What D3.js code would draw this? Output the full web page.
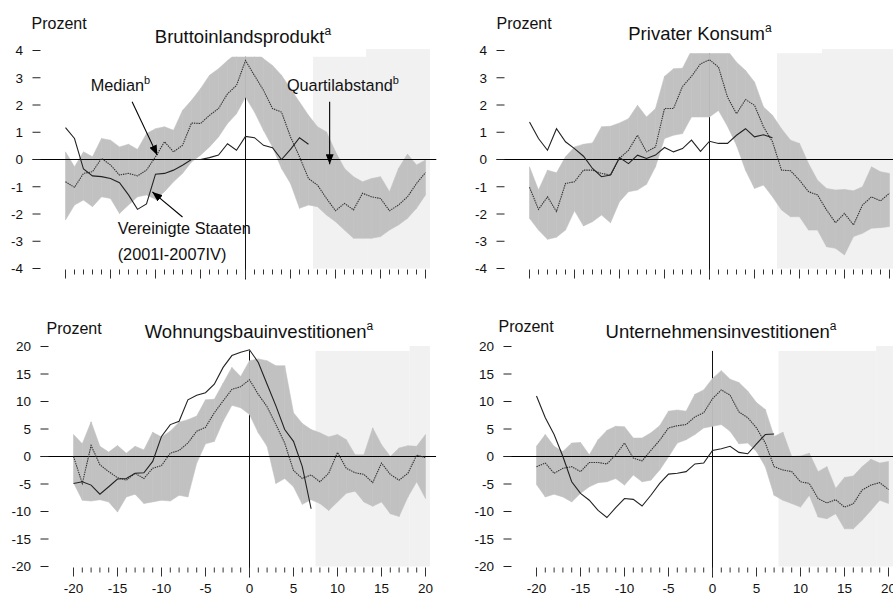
<!DOCTYPE html>
<html>
<head>
<meta charset="utf-8">
<script src="https://cdn.jsdelivr.net/npm/d3@7"></script>
<style>
  body { margin: 0; background: #fff; }
  svg { display: block; font-family: "Liberation Sans", Arial, Helvetica, sans-serif; }
</style>
</head>
<body>
<div id="chart"></div>
<script>
// quarters around the peak (0), -20 .. 20
var quarters = [-20,-19,-18,-17,-16,-15,-14,-13,-12,-11,-10,-9,-8,-7,-6,-5,-4,-3,-2,-1,
                0,1,2,3,4,5,6,7,8,9,10,11,12,13,14,15,16,17,18,19,20];
// US cycle 2001I-2007IV only covers -20 .. 7
var usQuarters = [-20,-19,-18,-17,-16,-15,-14,-13,-12,-11,-10,-9,-8,-7,-6,-5,-4,-3,-2,-1,
                  0,1,2,3,4,5,6,7];

var xTicks = [-20,-15,-10,-5,0,5,10,15,20];
var yTicksSmall = [-4,-3,-2,-1,0,1,2,3,4];
var yTicksLarge = [-20,-15,-10,-5,0,5,10,15,20];

// Bruttoinlandsprodukt
var gdpMedian = [-0.82,-1.02,-0.51,-0.45,0.04,-0.2,-0.57,-0.51,-0.6,-0.39,0.1,0.65,0.28,0.52,1.34,1.32,1.62,1.87,2.41,2.72,
                 3.63,3.08,2.54,1.87,1.74,0.83,0.1,-0.7,-0.94,-1.43,-1.88,-1.61,-1.85,-1.24,-1.37,-1.43,-1.88,-1.67,-1.37,-0.88,-0.48];
var gdpUpper = [0.28,-0.27,0.28,0.1,0.77,0.71,0.46,0.56,0.37,0.95,1.13,1.2,1.07,1.8,2.17,2.6,3.09,3.33,3.63,3.9,
                4.2,4.0,3.7,3.45,3.09,2.6,2.11,1.62,1.2,1.01,0.28,-0.33,-0.63,-0.82,-0.7,-0.63,-1.18,-0.33,0.2,-0.2,-0.02];
var gdpLower = [-2.22,-1.67,-1.49,-1.73,-1.37,-1.43,-1.98,-1.67,-1.37,-1.3,-1.46,-1.18,-0.82,-0.51,-0.09,0.16,0.46,0.83,1.32,1.68,
                2.29,1.74,1.07,0.46,-0.33,-0.88,-1.79,-1.67,-1.73,-2.04,-2.28,-2.59,-2.89,-2.89,-2.89,-2.83,-2.59,-2.4,-2.16,-1.79,-1.3];
var gdpUS = [1.17,0.77,-0.35,-0.6,-0.63,-0.7,-0.85,-1.3,-1.83,-1.63,-0.54,-0.51,-0.39,-0.21,0,0,0.07,0.16,0.58,0.34,
             0.85,0.8,0.52,0.43,0,0.37,0.8,0.56];

// Privater Konsum
var conMedian = [-1.02,-1.83,-1.37,-1.91,-0.88,-0.82,-0.39,-0.39,-0.51,-0.57,0.04,0.34,0.89,0.28,0.46,1.87,1.87,2.68,3.05,3.51,
                 3.66,3.39,2.29,1.68,2.2,1.99,1.2,0.65,-0.39,-0.41,-0.76,-1.18,-1.3,-1.85,-2.32,-1.98,-2.4,-1.67,-1.37,-1.52,-1.24];
var conUpper = [-0.27,-1.12,-0.39,-0.49,0.1,0.46,0.56,0.61,1.2,1.22,1.34,1.5,1.99,1.56,1.87,3.05,3.33,3.35,4.0,4.2,
                4.3,4.2,4.0,3.57,3.27,2.84,1.93,1.62,1.13,0.71,0.59,-0.15,-0.76,-1.06,-1.12,-1.1,-1.15,-1.0,-0.27,-0.45,-0.51];
var conLower = [-2.16,-2.59,-2.93,-2.85,-2.59,-1.88,-2.44,-2.28,-2.04,-2.32,-1.55,-1.18,-1.12,-0.91,-0.27,0.77,0.89,0.95,1.56,1.56,
                1.56,1.8,1.22,0.52,-0.39,-1.06,-0.94,-1.37,-1.85,-2.1,-2.1,-2.59,-2.59,-3.2,-3.26,-3.5,-2.83,-2.71,-2.52,-2.5,-2.46];
var conUS = [1.38,0.77,0.34,1.13,0.65,0.4,0.12,-0.33,-0.63,-0.57,0.07,-0.15,0.16,0.04,0.16,0.44,0.28,0.4,0.71,0.3,
             0.67,0.59,0.59,0.89,1.13,0.83,0.91,0.8];

// Wohnungsbauinvestitionen
var houMedian = [0,-4.9,2.0,-1.5,-2.75,-3.85,-4.3,-3.05,-4.0,-2.15,-1.65,0.6,1.1,2.45,4.6,5.3,7.95,10.1,12.2,12.7,
                 13.95,11.3,9.05,5.8,2.45,-2.55,-4.0,-3.35,-4.6,-3.05,0.75,-2.15,-2.95,-3.25,-4.75,-1.2,-3.25,-4.3,-3.05,0.25,-0.2];
var houUpper = [4.0,2.3,6.3,1.85,0.8,2.0,0.6,1.85,1.2,4.4,3.55,4.6,6.25,6.7,7.35,10.3,10.4,13.3,16.2,14.55,
                17.4,17.75,17.4,16.5,16.5,7.95,6.0,4.9,4.3,3.55,4.0,3.05,0.3,0.3,5.2,2.15,0,1.55,1.95,1.85,4.0];
var houLower = [-4.75,-7.95,-8.1,-7.85,-8.25,-10.1,-7.35,-6.85,-8.55,-8.25,-7.95,-8.1,-7.05,-7.35,-1.2,2.3,2.75,6.4,9.3,8.85,
                7.65,4.3,1.85,-4.9,-4.0,-5.5,-8.7,-7.85,-8.55,-9.8,-8.25,-6.7,-6.3,-8.25,-9.05,-8.25,-10.4,-10.9,-7.35,-4.6,-7.65];
var houUS = [-4.9,-4.6,-5.2,-6.85,-5.5,-4.1,-4.0,-3.05,-2.95,-0.9,3.65,5.8,6.4,10.3,11.15,11.6,13.15,16.2,18.35,18.95,
             19.4,17.1,13.15,9.2,4.9,2.75,-1.85,-9.5];

// Unternehmensinvestitionen
var invMedian = [-1.85,-1.2,-3.05,-2.15,-1.85,-2.75,-1.1,-1.1,-1.35,0.3,2.45,-0.3,-0.8,1.1,2.95,5.2,5.6,5.8,7.2,7.95,
                 10.5,12.1,11.15,8.1,7.05,5.2,2.45,-1.85,-2.45,-2.75,-4.6,-4.9,-7.65,-8.45,-7.85,-9.2,-8.6,-6.1,-5.2,-4.75,-6.0];
var invUpper = [1.85,4.0,1.85,0.9,2.45,2.55,0.3,3.05,4.75,5.5,5.4,3.35,3.35,4.3,5.6,8.25,8.45,8.25,11.3,12.1,
                14.2,15.6,14.05,13.45,11.9,9.8,8.55,3.65,4.4,0,0.1,0.6,-2.75,-1.85,-5.8,-3.8,-3.55,-1.85,-0.5,-1.2,-0.9];
var invLower = [-5.1,-7.35,-6.85,-7.35,-8.25,-6.7,-5.5,-4.75,-4.6,-4.0,-5.2,-3.35,-4.6,-4.3,-2.45,-0.1,2.45,3.05,4.0,5.2,
                5.5,5.8,4.6,2.3,2.45,0.9,-1.85,-7.05,-7.95,-8.55,-9.2,-7.05,-11.0,-11.3,-10.4,-13.15,-13.15,-11.6,-9.8,-7.95,-8.55];
var invUS = [11.0,7.05,4.0,0,-4.6,-6.7,-7.95,-9.8,-11.1,-9.3,-7.65,-7.8,-9.0,-7.05,-4.9,-3.2,-3.05,-2.75,-1.35,-1.2,
             1.1,1.4,1.85,0.75,0.5,2.3,4.0,4.1];

// forecast area (light grey) in quarters
var shadeFrom = 7.5, shadeTo = 20.5;

var panels = [
  { title: "Bruttoinlandsprodukt", median: gdpMedian, upper: gdpUpper, lower: gdpLower, us: gdpUS,
    yTicks: yTicksSmall, xRange: [65.5, 425.5], yRange: [268.5, 50.5],
    clipTop: 3.77, notch: 13.4, notchTop: 4.05, titleX: 243, titleY: 43, prozent: [31.5, 28.5], xLabels: false },
  { title: "Privater Konsum", median: conMedian, upper: conUpper, lower: conLower, us: conUS,
    yTicks: yTicksSmall, xRange: [529.5, 889.5], yRange: [268.5, 50.5],
    clipTop: 3.9, notch: 12.5, notchTop: 4.05, titleX: 700, titleY: 40, prozent: [496.5, 28.5], xLabels: false },
  { title: "Wohnungsbauinvestitionen", median: houMedian, upper: houUpper, lower: houLower, us: houUS,
    yTicks: yTicksLarge, xRange: [73.5, 425.5], yRange: [566.5, 346.5],
    clipTop: 19.2, notch: 18.2, notchTop: 20.1, titleX: 259, titleY: 338, prozent: [46.5, 333.5], xLabels: true },
  { title: "Unternehmensinvestitionen", median: invMedian, upper: invUpper, lower: invLower, us: invUS,
    yTicks: yTicksLarge, xRange: [536.5, 888.5], yRange: [566.5, 346.5],
    clipTop: 19.2, notch: 18.6, notchTop: 20.1, titleX: 721, titleY: 338, prozent: [498.5, 332], xLabels: true }
];

// labels and arrows in the first panel, in data units
var notes = [
  { text: "Median", sup: "b", q: -17.2, v: 2.52 },
  { text: "Quartilabstand", sup: "b", q: 4.6, v: 2.52 },
  { text: "Vereinigte Staaten", sup: "", q: -14.2, v: -2.72 },
  { text: "(2001I-2007IV)", sup: "", q: -14.2, v: -3.7 }
];
var arrows = [
  { q0: -12.6, v0: 2.12, q1: -9.8, v1: 0.16 },
  { q0: 9.35, v0: 2.12, q1: 9.35, v1: -0.17 },
  { q0: -7.0, v0: -2.11, q1: -10.35, v1: -1.19 }
];

var W = 893, H = 596;
var svg = d3.select("#chart").append("svg")
  .attr("width", W).attr("height", H);

svg.append("rect").attr("width", W).attr("height", H).attr("fill", "#fff");

svg.append("defs").append("marker")
  .attr("id", "head")
  .attr("markerUnits", "userSpaceOnUse")
  .attr("markerWidth", 11).attr("markerHeight", 8)
  .attr("refX", 10).attr("refY", 4)
  .attr("orient", "auto")
  .append("path").attr("d", "M0,0 L10,4 L0,8 Z").attr("fill", "#000");

panels.forEach(function (p, pi) {
  var yDom = [p.yTicks[0], p.yTicks[p.yTicks.length - 1]];
  var x = d3.scaleLinear().domain([-20, 20]).range(p.xRange);
  var y = d3.scaleLinear().domain(yDom).range(p.yRange);
  var g = svg.append("g");
  var yBottom = y(yDom[0]);

  var clipId = "clip" + pi;
  g.append("clipPath").attr("id", clipId)
    .append("rect")
    .attr("x", x(-21)).attr("y", y(p.clipTop))
    .attr("width", x(21.5) - x(-21)).attr("height", yBottom - y(p.clipTop));

  // forecast shading (two pieces, as in the original)
  g.append("rect")
    .attr("x", x(shadeFrom)).attr("y", y(p.clipTop))
    .attr("width", x(p.notch) - x(shadeFrom)).attr("height", yBottom - y(p.clipTop))
    .attr("fill", "#f1f1f1");
  g.append("rect")
    .attr("x", x(p.notch)).attr("y", y(p.notchTop))
    .attr("width", x(shadeTo) - x(p.notch)).attr("height", yBottom - y(p.notchTop))
    .attr("fill", "#f1f1f1");

  // vertical line at the peak
  g.append("line")
    .attr("x1", x(0)).attr("x2", x(0))
    .attr("y1", y(p.clipTop)).attr("y2", yBottom + 11)
    .attr("stroke", "#111").attr("stroke-width", 1);

  // interquartile band, one piece per quarter (thin seams between pieces)
  var band = d3.area()
    .x(function (d) { return x(d.q); })
    .y0(function (d) { return y(d.lo); })
    .y1(function (d) { return y(d.up); });
  var segs = d3.pairs(quarters.map(function (q, i) {
    return { q: q, up: p.upper[i], lo: p.lower[i] };
  }));
  g.append("g").attr("clip-path", "url(#" + clipId + ")")
    .selectAll("path").data(segs).enter().append("path")
    .attr("d", band)
    .attr("fill", "#c1c1c1")
    .attr("stroke", "#c1c1c1").attr("stroke-width", 0.55);

  // zero line
  g.append("line")
    .attr("x1", x(-20) - 33).attr("x2", Math.min(x(21.2), W))
    .attr("y1", y(0)).attr("y2", y(0))
    .attr("stroke", "#000").attr("stroke-width", 1);

  var line = d3.line()
    .x(function (d) { return x(d[0]); })
    .y(function (d) { return y(d[1]); });

  g.append("path")
    .attr("d", line(d3.zip(quarters, p.median)))
    .attr("fill", "none").attr("stroke", "#333")
    .attr("stroke-width", 1.1).attr("stroke-dasharray", "1.4,0.9");

  g.append("path")
    .attr("d", line(d3.zip(usQuarters, p.us)))
    .attr("fill", "none").attr("stroke", "#222").attr("stroke-width", 1.1);

  // y ticks
  var yt = g.append("g");
  yt.selectAll("line").data(p.yTicks).enter().append("line")
    .attr("x1", x(-20) - 33).attr("x2", x(-20) - 25)
    .attr("y1", function (d) { return y(d); }).attr("y2", function (d) { return y(d); })
    .attr("stroke", "#222").attr("stroke-width", 1);
  yt.selectAll("text").data(p.yTicks).enter().append("text")
    .attr("x", x(-20) - 42.5).attr("y", function (d) { return y(d); })
    .attr("dy", "0.36em")
    .attr("text-anchor", "end")
    .attr("font-size", 13.5).attr("fill", "#111")
    .text(function (d) { return d; });

  // x ticks: every quarter, longer every fifth
  g.append("g").selectAll("line").data(quarters).enter().append("line")
    .attr("x1", function (d) { return x(d); }).attr("x2", function (d) { return x(d); })
    .attr("y1", yBottom + 1)
    .attr("y2", function (d) { return yBottom + (xTicks.indexOf(d) >= 0 ? 10 : 6); })
    .attr("stroke", "#333").attr("stroke-width", 1);

  if (p.xLabels) {
    g.append("g").selectAll("text").data(xTicks).enter().append("text")
      .attr("x", function (d) { return x(d); }).attr("y", yBottom + 26)
      .attr("text-anchor", "middle")
      .attr("font-size", 13.5).attr("fill", "#111")
      .text(function (d) { return d; });
  }

  g.append("text")
    .attr("x", p.prozent[0]).attr("y", p.prozent[1])
    .attr("font-size", 16).attr("fill", "#111")
    .text("Prozent");

  var t = g.append("text")
    .attr("x", p.titleX).attr("y", p.titleY)
    .attr("text-anchor", "middle")
    .attr("font-size", 18.5).attr("fill", "#111");
  t.append("tspan").text(p.title);
  t.append("tspan").attr("dy", -8).attr("font-size", 12).text("a");

  if (pi === 0) {
    notes.forEach(function (n) {
      var tx = g.append("text")
        .attr("x", x(n.q)).attr("y", y(n.v))
        .attr("font-size", 16.3).attr("fill", "#111");
      tx.append("tspan").text(n.text);
      if (n.sup) tx.append("tspan").attr("dy", -7).attr("font-size", 11).text(n.sup);
    });
    g.append("g").selectAll("line").data(arrows).enter().append("line")
      .attr("x1", function (d) { return x(d.q0); }).attr("y1", function (d) { return y(d.v0); })
      .attr("x2", function (d) { return x(d.q1); }).attr("y2", function (d) { return y(d.v1); })
      .attr("stroke", "#000").attr("stroke-width", 1.1)
      .attr("marker-end", "url(#head)");
  }
});
</script>
</body>
</html>
